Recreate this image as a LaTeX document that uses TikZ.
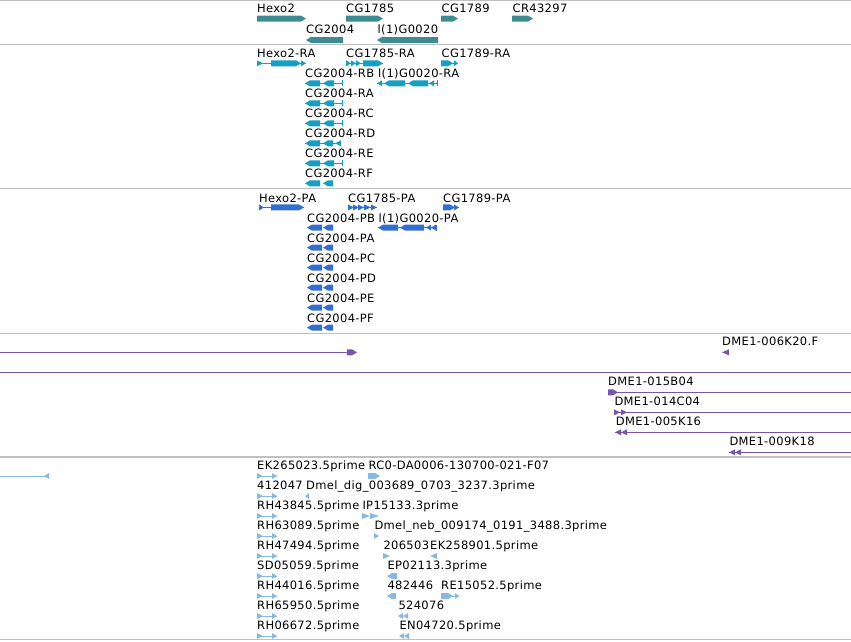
\documentclass[tikz,border=0pt]{standalone}
\usepackage{fontspec}
\newfontfamily\lblfont[LetterSpace=3]{DejaVu Sans}
\definecolor{gene}{RGB}{62,140,145}
\definecolor{tx}{RGB}{20,160,195}
\definecolor{pr}{RGB}{50,110,210}
\definecolor{pu}{RGB}{120,85,170}
\definecolor{es}{RGB}{135,185,225}
\definecolor{sepc}{RGB}{192,192,192}
% glyph helpers: colour, x0, x1, y
\newcommand{\gbarR}[4]{\fill[#1] (#2,#4-3) -- (#3-5,#4-3) -- (#3,#4) -- (#3-5,#4+3) -- (#2,#4+3) -- cycle;}
\newcommand{\gbarL}[4]{\fill[#1] (#3,#4-3) -- (#2+5,#4-3) -- (#2,#4) -- (#2+5,#4+3) -- (#3,#4+3) -- cycle;}
% triangles: colour, tip x, y, width
\newcommand{\triR}[4]{\fill[#1] (#2,#3) -- ++(-#4,-3) -- ++(0,6) -- cycle;}
\newcommand{\triL}[4]{\fill[#1] (#2,#3) -- ++(#4,-3) -- ++(0,6) -- cycle;}
% thin line: colour, x0, x1, y
\newcommand{\hl}[4]{\draw[#1,line width=1pt] (#2,#4) -- (#3,#4);}
\newcommand{\tick}[3]{\fill[#1] (#2-1.5,#3-3) rectangle (#2,#3+3);}
\begin{document}
\begin{tikzpicture}[x=1pt,y=-1pt,
  lbl/.style={anchor=base west,inner sep=0pt,font=\lblfont\fontsize{11.5}{13}\selectfont},
  sep/.style={draw=sepc,line width=1.3pt}]
\useasboundingbox (0,0) rectangle (851,641);
% separators
\foreach \yy in {0.7,44.3,188.3,333.3,457,639.6} \draw[sep] (0,\yy) -- (851,\yy);

% ---------- genes ----------
\node[lbl] (g1) at (257,12.5) {Hexo2};
\node[lbl] (g2) at (346,12.5) {CG1785};
\node[lbl] (g3) at (441.5,12.5) {CG1789};
\node[lbl] (g4) at (512.5,12.5) {CR43297};
\node[lbl] (g5) at (306,33.5) {CG2004};
\node[lbl] (g6) at (377.5,33.5) {l(1)G0020};
\gbarR{gene}{257}{306}{18.6}
\gbarR{gene}{346}{383}{18.6}
\gbarR{gene}{441}{458}{18.6}
\gbarR{gene}{512}{533}{18.6}
\gbarL{gene}{306}{343}{40}
\gbarL{gene}{377}{438}{40}

% ---------- transcripts ----------
\node[lbl] (t1) at (257,57) {Hexo2-RA};
\node[lbl] (t2) at (346,57) {CG1785-RA};
\node[lbl] (t3) at (441.5,57) {CG1789-RA};
\node[lbl] (t4) at (305,77) {CG2004-RB};
\node[lbl] (t5) at (378,77) {l(1)G0020-RA};
\foreach \nm [count=\k] in {RA,RC,RD,RE,RF}
  \node[lbl] (tr\k) at (305,77+20*\k) {CG2004-\nm};
% Hexo2-RA
\hl{tx}{257}{306}{63.3}
\triR{tx}{263}{63.3}{6}
\gbarR{tx}{271}{301}{63.3}
\triR{tx}{306}{63.3}{5}
% CG1785-RA
\hl{tx}{346}{383}{63.3}
\triR{tx}{351}{63.3}{5}
\triR{tx}{356}{63.3}{5}
\triR{tx}{361}{63.3}{5}
\gbarR{tx}{363}{383}{63.3}
% CG1789-RA
\hl{tx}{441}{458}{63.3}
\gbarR{tx}{441}{453}{63.3}
\triR{tx}{458}{63.3}{4}
% CG2004-RB, RA, RC, RE
\foreach \yy in {83.3,103.3,123.3,163.3}{
  \hl{tx}{305}{343}{\yy}
  \gbarL{tx}{305}{320}{\yy}
  \gbarL{tx}{323}{334}{\yy}
  \tick{tx}{343}{\yy}
}
% CG2004-RD
\hl{tx}{305}{341}{143.3}
\gbarL{tx}{305}{320}{143.3}
\gbarL{tx}{323}{333}{143.3}
\triL{tx}{335}{143.3}{6}
% CG2004-RF
\gbarL{tx}{305}{320}{183.3}
\gbarL{tx}{323}{333}{183.3}
% l(1)G0020-RA
\hl{tx}{377}{438}{83.3}
\triL{tx}{377}{83.3}{5}
\gbarL{tx}{384}{405}{83.3}
\gbarL{tx}{408}{428}{83.3}
\triL{tx}{429}{83.3}{5}
\tick{tx}{438}{83.3}

% ---------- proteins ----------
\node[lbl] (p1) at (259,202.5) {Hexo2-PA};
\node[lbl] (p2) at (348,202.5) {CG1785-PA};
\node[lbl] (p3) at (443,202.5) {CG1789-PA};
\node[lbl] (p4) at (307,222.3) {CG2004-PB};
\node[lbl] (p5) at (378.5,222.3) {l(1)G0020-PA};
\foreach \nm [count=\k] in {PA,PC,PD,PE,PF}
  \node[lbl] (pp\k) at (307,222.3+20*\k) {CG2004-\nm};
% Hexo2-PA
\hl{pr}{259}{304}{207.4}
\triR{pr}{264}{207.4}{5}
\gbarR{pr}{271}{304}{207.4}
% CG1785-PA
\hl{pr}{348}{377}{207.4}
\triR{pr}{354}{207.4}{6}
\triR{pr}{359}{207.4}{6}
\triR{pr}{364}{207.4}{6}
\triR{pr}{371}{207.4}{7}
\triR{pr}{377}{207.4}{6}
% CG1789-PA
\hl{pr}{443}{459}{207.4}
\gbarR{pr}{443}{455}{207.4}
\triR{pr}{459}{207.4}{5}
% CG2004-P*
\foreach \yy in {227.6,247.6,267.6,287.6,307.6,327.6}{
  \gbarL{pr}{307}{322}{\yy}
  \gbarL{pr}{323}{333}{\yy}
}
% l(1)G0020-PA
\hl{pr}{378}{437}{227.6}
\gbarL{pr}{378}{398}{227.6}
\gbarL{pr}{400}{424}{227.6}
\triL{pr}{426}{227.6}{5}
\triL{pr}{431}{227.6}{5}
\tick{pr}{437}{227.6}

% ---------- clones (purple) ----------
\hl{pu}{0}{347}{352.3}
\gbarR{pu}{347}{357}{352.3}
\node[lbl] (c1) at (722,345.3) {DME1-006K20.F};
\triL{pu}{722}{352.3}{7}
\hl{pu}{0}{851}{372.3}
\node[lbl] (c2) at (608,385.3) {DME1-015B04};
\hl{pu}{608}{851}{392.3}
\gbarR{pu}{608}{618}{392.3}
\node[lbl] (c3) at (614.3,405.3) {DME1-014C04};
\hl{pu}{614}{851}{412.3}
\triR{pu}{620}{412.3}{6}
\triR{pu}{627}{412.3}{6}
\node[lbl] (c4) at (615.7,425.3) {DME1-005K16};
\hl{pu}{615}{851}{432.3}
\triL{pu}{615}{432.3}{6}
\triL{pu}{621}{432.3}{6}
\node[lbl] (c5) at (729.3,445.3) {DME1-009K18};
\hl{pu}{729}{851}{452.3}
\triL{pu}{729}{452.3}{6}
\triL{pu}{735}{452.3}{6}

% ---------- ESTs (light blue) ----------
\hl{es}{0}{48}{476}
\triL{es}{44}{476}{5}
\foreach \nm [count=\k from 0] in {EK265023.5prime,412047,RH43845.5prime,RH63089.5prime,RH47494.5prime,SD05059.5prime,RH44016.5prime,RH65950.5prime,RH06672.5prime}{
  \node[lbl] (e\k) at (257,469.5+20*\k) {\nm};
  \hl{es}{257}{277}{476+20*\k}
  \triR{es}{263}{476+20*\k}{6}
  \triR{es}{277}{476+20*\k}{5}
}
\node[lbl] (f1) at (368.3,469.5) {RC0-DA0006-130700-021-F07};
\gbarR{es}{368}{380}{476}
\node[lbl] (f2) at (306,489.5) {Dmel\_dig\_003689\_0703\_3237.3prime};
\triL{es}{305}{496}{4}
\node[lbl] (f3) at (362.3,509.5) {IP15133.3prime};
\triR{es}{370}{516}{8}
\triR{es}{379}{516}{9}
\node[lbl] (f4) at (374.3,529.5) {Dmel\_neb\_009174\_0191\_3488.3prime};
\triR{es}{379}{536}{5}
\node[lbl] (f5) at (383.3,549.5) {206503};
\triR{es}{390}{556}{7}
\node[lbl] (f6) at (430,549.5) {EK258901.5prime};
\triL{es}{430}{556}{7}
\node[lbl] (f7) at (387.3,569.5) {EP02113.3prime};
\gbarL{es}{387}{397}{576}
\node[lbl] (f8) at (387.3,589.5) {482446};
\gbarL{es}{387}{396}{596}
\node[lbl] (f9) at (441,589.5) {RE15052.5prime};
\hl{es}{441}{459}{596}
\gbarR{es}{441}{453}{596}
\triR{es}{459}{596}{4}
\node[lbl] (f10) at (398.3,609.5) {524076};
\triL{es}{398}{616}{5}
\triL{es}{403}{616}{5}
\node[lbl] (f11) at (399.3,629.5) {EN04720.5prime};
\triL{es}{399}{636}{5}
\triL{es}{404}{636}{5}
\end{tikzpicture}
\end{document}
